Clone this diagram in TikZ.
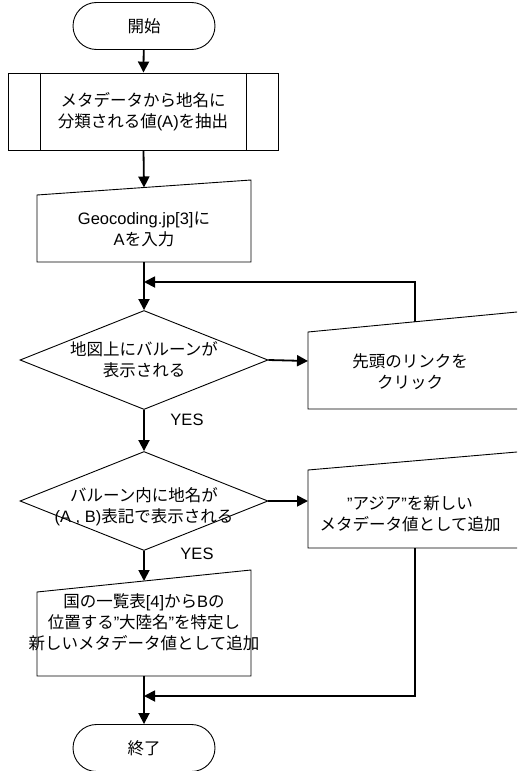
\documentclass[tikz,border=0pt]{standalone}
\usepackage{fontspec}
\setmainfont{Liberation Sans}
\newfontfamily\jp{Noto Sans CJK JP}
\usetikzlibrary{shapes.geometric,shapes.misc,arrows.meta}
\begin{document}
\begin{tikzpicture}[x=1pt,y=-1pt,
  font=\fontsize{16.5}{21}\selectfont,
  box/.style={draw,line width=0.9pt},
  conn/.style={line width=1.8pt,-{Triangle[length=11pt,width=11pt]}},
  txt/.style={align=center,inner sep=0pt}]
\useasboundingbox (0,0) rectangle (517,771);
\clip (0,0) rectangle (517,771);

% start
\node[box,rounded rectangle,minimum width=142pt,minimum height=47pt,inner sep=0pt] (start) at (144,26) {\jp 開始};

% predefined process
\node[box,minimum width=270pt,minimum height=77pt,txt] (proc) at (143,111.5) {{\jp メタデータから地名に}\\{\jp 分類される値}(A){\jp を抽出}};
\draw[box] ([xshift=33pt]proc.north west) -- ([xshift=33pt]proc.south west);
\draw[box] ([xshift=-32pt]proc.north east) -- ([xshift=-32pt]proc.south east);

% manual input: geocoding
\coordinate (g1) at (37,195);
\coordinate (g2) at (251,180);
\coordinate (g3) at (251,262);
\coordinate (g4) at (37,262);
\draw[box] (g1) -- (g2) -- (g3) -- (g4) -- cycle;
\node[txt] (geo) at (144,229) {Geocoding.jp[3]{\jp に}\\A{\jp を入力}};
\coordinate (geotop) at (144,187.5);
\coordinate (geobot) at (144,262);

% decision 1
\node[box,diamond,minimum width=248pt,minimum height=99pt,inner sep=0pt] (d1) at (144,360) {};
\node[txt] (d1t) at (144,360) {{\jp 地図上にバルーンが}\\{\jp 表示される}};

% click box
\coordinate (c1) at (308,332);
\coordinate (c2) at (540,309.8);
\coordinate (c3) at (540,409);
\coordinate (c4) at (308,409);
\draw[box] (c1) -- (c2) -- (c3) -- (c4) -- cycle;
\node[txt] (click) at (410,372) {{\jp 先頭のリンクを}\\{\jp クリック}};
\coordinate (clicktop) at (415,321.8);
\coordinate (clickleft) at (308,361);
\coordinate (loopin) at (144,282);

% decision 2
\node[box,diamond,minimum width=248pt,minimum height=99pt,inner sep=0pt] (d2) at (144,501) {};
\node[txt] (d2t) at (144,507) {{\jp バルーン内に地名が}\\(A , B){\jp 表記で表示される}};

% asia box
\coordinate (a1) at (308,470);
\coordinate (a2) at (540,450);
\coordinate (a3) at (540,548);
\coordinate (a4) at (308,548);
\draw[box] (a1) -- (a2) -- (a3) -- (a4) -- cycle;
\node[txt] (asia) at (410,514) {”{\jp アジア}”{\jp を新しい}\\{\jp メタデータ値として追加}};
\coordinate (asialeft) at (308,501);
\coordinate (asiabot) at (415,548);
\coordinate (mergein) at (144,696);

% continent box
\coordinate (k1) at (37,592);
\coordinate (k2) at (251,570);
\coordinate (k3) at (251,676);
\coordinate (k4) at (37,676);
\draw[box] (k1) -- (k2) -- (k3) -- (k4) -- cycle;
\node[txt] (cont) at (144,622) {{\jp 国の一覧表}[4]{\jp から}B{\jp の}\\{\jp 位置する}”{\jp 大陸名}”{\jp を特定し}\\{\jp 新しいメタデータ値として追加}};
\coordinate (conttop) at (144,581);
\coordinate (contbot) at (144,676);

% end
\node[box,rounded rectangle,minimum width=142pt,minimum height=47pt,inner sep=0pt] (end) at (144,748) {\jp 終了};

% labels
\node[inner sep=0pt] (yes1) at (187,420) {YES};
\node[inner sep=0pt] (yes2) at (197,554) {YES};

% connectors
\draw[conn] (start) -- (proc);
\draw[conn] (proc) -- (geotop);
\draw[conn] (geobot) -- (d1.north);
\draw[conn] (clicktop) |- (loopin);
\draw[conn] (d1.east) -- (clickleft);
\draw[conn] (d1.south) -- (d2.north);
\draw[conn] (d2.east) -- (asialeft);
\draw[conn] (d2.south) -- (conttop);
\draw[conn] (asiabot) |- (mergein);
\draw[conn] (contbot) -- (end.north);
\end{tikzpicture}
\end{document}
